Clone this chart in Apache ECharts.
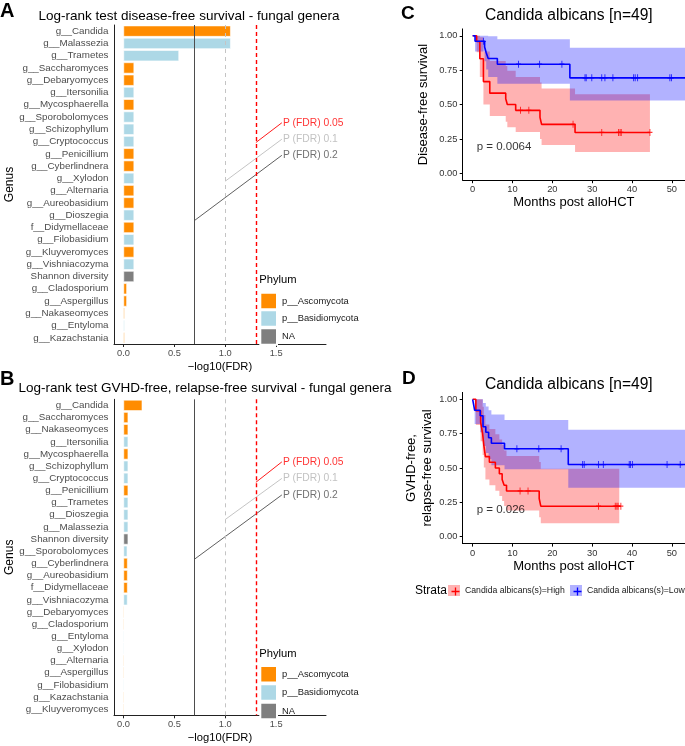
<!DOCTYPE html>
<html><head><meta charset="utf-8">
<script src="https://cdn.jsdelivr.net/npm/echarts@6/dist/echarts.min.js"></script>
<style>html,body{margin:0;padding:0;background:#fff}#c{width:685px;height:746px}</style>
</head><body><div id="c"></div>
<script>
// ---------- Panel A data ----------
const genusA = ['g__Candida','g__Malassezia','g__Trametes','g__Saccharomyces','g__Debaryomyces','g__Itersonilia','g__Mycosphaerella','g__Sporobolomyces','g__Schizophyllum','g__Cryptococcus','g__Penicillium','g__Cyberlindnera','g__Xylodon','g__Alternaria','g__Aureobasidium','g__Dioszegia','f__Didymellaceae','g__Filobasidium','g__Kluyveromyces','g__Vishniacozyma','Shannon diversity','g__Cladosporium','g__Aspergillus','g__Nakaseomyces','g__Entyloma','g__Kazachstania'];
const phylumA = ['A','B','B','A','A','B','A','B','B','B','A','A','B','A','A','B','A','B','A','B','N','A','A','A','B','A'];
const fdrA = [1.054,1.054,0.546,0.105,0.105,0.105,0.105,0.105,0.105,0.105,0.105,0.105,0.105,0.105,0.105,0.105,0.105,0.105,0.105,0.105,0.105,0.034,0.034,0.012,0.012,0.012];
// ---------- Panel B data ----------
const genusB = ['g__Candida','g__Saccharomyces','g__Nakaseomyces','g__Itersonilia','g__Mycosphaerella','g__Schizophyllum','g__Cryptococcus','g__Penicillium','g__Trametes','g__Dioszegia','g__Malassezia','Shannon diversity','g__Sporobolomyces','g__Cyberlindnera','g__Aureobasidium','f__Didymellaceae','g__Vishniacozyma','g__Debaryomyces','g__Cladosporium','g__Entyloma','g__Xylodon','g__Alternaria','g__Aspergillus','g__Filobasidium','g__Kazachstania','g__Kluyveromyces'];
const phylumB = ['A','A','A','B','A','B','B','A','B','B','B','N','B','A','A','A','B','A','A','B','B','A','A','B','A','A'];
const fdrB = [0.185,0.047,0.047,0.047,0.047,0.047,0.047,0.047,0.047,0.047,0.047,0.047,0.038,0.041,0.041,0.041,0.04,0.008,0.008,0.008,0.008,0.008,0.008,0.008,0.008,0.008];
// FDR thresholds and annotation rows (row index units)
const fdrCuts = [0.2, 0.1, 0.05];
const cutLabels = ['P (FDR) 0.2', 'P (FDR) 0.1', 'P (FDR) 0.05'];
const annLabelX = 1.556;
const annStartRowA = [15.43, 12.23, 9.08];
const annLabelRowA = [10.12, 8.81, 7.47];
const annStartRowB = [12.65, 9.39, 6.33];
const annLabelRowB = [7.37, 6.01, 4.65];
const xTicksAB = [0, 0.5, 1.0, 1.5];
const phylumNames = ['p__Ascomycota','p__Basidiomycota','NA'];
const phylumCodes = ['A','B','N'];
// ---------- Panel C data (disease-free survival) ----------
const kmCHighT  = [0, 1.0, 1.8, 2.7, 4.3, 8.3, 8.7, 10.8, 16.9, 17.3, 25.7, 44.5];
const kmCHighS  = [1, 0.958, 0.833, 0.667, 0.583, 0.542, 0.5, 0.458, 0.407, 0.356, 0.297, 0.297];
const kmCHighLo = [1, 0.88, 0.70, 0.50, 0.416, 0.375, 0.335, 0.30, 0.25, 0.206, 0.155, 0.155];
const kmCHighUp = [1, 1, 0.99, 0.885, 0.816, 0.78, 0.745, 0.70, 0.66, 0.617, 0.574, 0.574];
const censCHighT = [12.0, 14.1, 25.2, 32.4, 36.6, 37.0, 37.3, 44.5];
const censCHighS = [0.458, 0.458, 0.356, 0.297, 0.297, 0.297, 0.297, 0.297];
const kmCLowT  = [0, 0.6, 3.0, 3.4, 3.9, 6.2, 24.4, 53.3];
const kmCLowS  = [1, 0.96, 0.918, 0.876, 0.835, 0.793, 0.694, 0.694];
const kmCLowLo = [1, 0.885, 0.815, 0.754, 0.70, 0.652, 0.53, 0.53];
const kmCLowUp = [1, 1, 1, 1, 0.997, 0.974, 0.913, 0.913];
const censCLowT = [2.7, 11.5, 16.8, 22.4, 28.2, 28.5, 29.9, 32.4, 33.2, 35.2, 40.4, 40.8, 41.4, 49.5, 49.9];
const censCLowS = [0.96, 0.793, 0.793, 0.793, 0.694, 0.694, 0.694, 0.694, 0.694, 0.694, 0.694, 0.694, 0.694, 0.694, 0.694];
const pvalC = 'p = 0.0064';
// ---------- Panel D data (GVHD-free, relapse-free survival) ----------
const kmDHighT  = [0, 0.8, 2.0, 2.5, 2.8, 3.2, 4.2, 5.7, 6.7, 7.4, 7.9, 8.5, 16.7, 17.1, 37.2];
const kmDHighS  = [1, 0.917, 0.833, 0.75, 0.667, 0.583, 0.542, 0.5, 0.458, 0.417, 0.375, 0.333, 0.278, 0.222, 0.222];
const kmDHighLo = [1, 0.813, 0.694, 0.595, 0.503, 0.416, 0.375, 0.335, 0.297, 0.26, 0.224, 0.19, 0.142, 0.098, 0.098];
const kmDHighUp = [1, 1, 1, 0.945, 0.885, 0.817, 0.783, 0.746, 0.708, 0.669, 0.628, 0.587, 0.543, 0.495, 0.495];
const bandDHighEnd = 36.8;
const censDHighT = [11.9, 13.9, 31.6, 35.8, 36.2, 36.5, 37.2];
const censDHighS = [0.333, 0.333, 0.222, 0.222, 0.222, 0.222, 0.222];
const kmDLowT  = [0, 0.5, 1.9, 2.6, 3.3, 4.0, 4.7, 8.0, 24.0, 53.3];
const kmDLowS  = [1, 0.92, 0.88, 0.80, 0.76, 0.72, 0.68, 0.64, 0.525, 0.525];
const kmDLowLo = [1, 0.82, 0.76, 0.66, 0.61, 0.565, 0.52, 0.49, 0.357, 0.357];
const kmDLowUp = [1, 1, 1, 0.973, 0.947, 0.92, 0.889, 0.85, 0.779, 0.779];
const censDLowT = [11.1, 16.6, 22.2, 27.6, 28.0, 31.6, 32.8, 39.3, 39.6, 40.1, 48.8, 52.1];
const censDLowS = [0.64, 0.64, 0.64, 0.525, 0.525, 0.525, 0.525, 0.525, 0.525, 0.525, 0.525, 0.525];
const pvalD = 'p = 0.026';
const strataNames = ['Candida albicans(s)=High', 'Candida albicans(s)=Low'];
const xTicksKM = [0, 10, 20, 30, 40, 50];
const yTicksKM = [0, 0.25, 0.5, 0.75, 1];

// ---------- styling ----------
const FF = '"Liberation Sans", Arial, sans-serif';
const phylumColors = ['#FF8C00', '#ADD8E6', '#7F7F7F'];
const cutStyles = [
  {color: '#4D4D4D', type: 'solid', width: 1},
  {color: '#C4C4C4', type: [4, 4], width: 1},
  {color: '#FF0000', type: [4, 3], width: 1.4}
];
const connColors = ['#4D4D4D', '#BDBDBD', '#FF0000'];
const annColors = ['#4D4D4D', '#B3B3B3', '#FF0000'];
const axisCol = '#222';
const tickTxt = '#4D4D4D';

function barPanel(vals, phyla, xi, yi, yHidden, startRows, labelRows, stackKey) {
  const out = [];
  phylumCodes.forEach((code, k) => {
    const s = {
      type: 'bar', name: phylumNames[k], xAxisIndex: xi, yAxisIndex: yi, stack: stackKey,
      barCategoryGap: '10%', silent: true,
      itemStyle: {color: phylumColors[k], borderColor: '#fff', borderWidth: 0.6},
      data: vals.map((v, i) => phyla[i] === code ? v : '-')
    };
    if (k === 0) {
      s.markLine = {
        silent: true, symbol: ['none', 'none'], label: {show: false},
        data: fdrCuts.map((p, j) => ({xAxis: -Math.log10(p), lineStyle: cutStyles[j]}))
      };
    }
    out.push(s);
  });
  fdrCuts.forEach((p, j) => {
    out.push({
      type: 'line', xAxisIndex: xi, yAxisIndex: yHidden, symbol: 'none', silent: true,
      lineStyle: {color: connColors[j], width: 0.9},
      data: [[-Math.log10(p), startRows[j]], [annLabelX, labelRows[j]]]
    });
    out.push({
      type: 'scatter', xAxisIndex: xi, yAxisIndex: yHidden, symbolSize: 0.1, silent: true,
      itemStyle: {color: 'rgba(0,0,0,0)'},
      label: {show: true, position: 'right', distance: 1, formatter: cutLabels[j],
              color: annColors[j], fontSize: 10.3, fontFamily: FF},
      data: [[annLabelX, labelRows[j]]]
    });
  });
  return out;
}

// confidence band: one polygon built through the axes' coord conversion
function kmBand(t, lo, up, fill, xi, yi) {
  const n = t.length;
  return {
    type: 'custom', xAxisIndex: xi, yAxisIndex: yi, silent: true, z: 2, clip: true,
    encode: {x: 0, y: [1, 2]},
    data: t.map((x, i) => [x, lo[i], up[i]]),
    renderItem: function (params, api) {
      if (params.dataIndex !== 0) return null;
      const pts = [];
      for (let i = 0; i < n - 1; i++) {
        pts.push(api.coord([api.value(0, i), api.value(2, i)]));
        pts.push(api.coord([api.value(0, i + 1), api.value(2, i)]));
      }
      for (let i = n - 2; i >= 0; i--) {
        pts.push(api.coord([api.value(0, i + 1), api.value(1, i)]));
        pts.push(api.coord([api.value(0, i), api.value(1, i)]));
      }
      return {type: 'polygon', shape: {points: pts}, style: {fill: fill}};
    }
  };
}
function kmLine(t, s, cT, cS, color, xi, yi, name) {
  return [
    {type: 'line', name: name, step: 'end', xAxisIndex: xi, yAxisIndex: yi, symbol: 'none', silent: true,
     itemStyle: {color: color}, lineStyle: {color: color, width: 1.6}, data: t.map((x, i) => [x, s[i]]), z: 4},
    {type: 'scatter', xAxisIndex: xi, yAxisIndex: yi, silent: true, z: 5,
     symbol: 'path://M5,0L5,10M0,5L10,5', symbolSize: [5, 7],
     itemStyle: {color: 'none', borderColor: color, borderWidth: 1.1},
     data: cT.map((x, i) => [x, cS[i]])}
  ];
}
function pvalSeries(text, xi, yi) {
  return {type: 'scatter', xAxisIndex: xi, yAxisIndex: yi, symbolSize: 0.1, silent: true, z: 6,
    itemStyle: {color: 'rgba(0,0,0,0)'},
    label: {show: true, position: 'right', distance: 0, formatter: text, fontSize: 11.5, color: '#000', fontFamily: FF},
    data: [[1.0, 0.193]]};
}

const catAxis = (grid, cats, name) => ({
  type: 'category', gridIndex: grid, data: cats, inverse: true,
  axisLine: {onZero: false, lineStyle: {color: axisCol, width: 1}},
  axisTick: {length: 3, alignWithLabel: true, lineStyle: {color: axisCol}},
  axisLabel: {fontSize: 9.8, color: tickTxt, margin: 5.5, fontFamily: FF, interval: 0},
  name: name, nameLocation: 'middle', nameGap: 95,
  nameTextStyle: {fontSize: 12, color: '#000', fontFamily: FF}
});
const hiddenRowAxis = (grid, n) => ({type: 'value', gridIndex: grid, show: false, inverse: true, min: -0.5, max: n - 0.5});
const fdrXAxis = (grid) => ({
  type: 'value', gridIndex: grid, min: -0.093, max: 1.99,
  splitLine: {show: false},
  axisLine: {onZero: false, lineStyle: {color: axisCol, width: 1}},
  axisTick: {length: 3, customValues: xTicksAB, lineStyle: {color: axisCol}},
  axisLabel: {customValues: xTicksAB, formatter: v => v.toFixed(1), fontSize: 9.3, color: tickTxt, margin: 5, fontFamily: FF},
  name: '\u2212log10(FDR)', nameLocation: 'middle', nameGap: 16.3,
  nameTextStyle: {fontSize: 11.2, color: '#000', fontFamily: FF, lineHeight: 13.4}
});
const kmXAxis = (grid) => ({
  type: 'value', gridIndex: grid, min: -2.5, max: 53.3,
  splitLine: {show: false},
  axisLine: {onZero: false, lineStyle: {color: '#000', width: 1}},
  axisTick: {length: 3, customValues: xTicksKM, lineStyle: {color: '#000'}},
  axisLabel: {customValues: xTicksKM, fontSize: 9.3, color: '#333', margin: 5, fontFamily: FF},
  name: 'Months post alloHCT', nameLocation: 'middle', nameGap: 14.3,
  nameTextStyle: {fontSize: 13, color: '#000', fontFamily: FF, lineHeight: 15.6}
});
const kmYAxis = (grid, name, gap) => ({
  type: 'value', gridIndex: grid, min: -0.05, max: 1.05,
  splitLine: {show: false},
  axisLine: {onZero: false, lineStyle: {color: '#000', width: 1}},
  axisTick: {length: 3, customValues: yTicksKM, lineStyle: {color: '#000'}},
  axisLabel: {customValues: yTicksKM, formatter: v => v.toFixed(2), fontSize: 9.3, color: '#333', margin: 5.4, fontFamily: FF},
  name: name, nameLocation: 'middle', nameGap: gap,
  nameTextStyle: {fontSize: 13, color: '#000', fontFamily: FF, lineHeight: 15.6, align: 'center'}
});

const txt = (text, x, y, size, opts = {}) => ({
  type: 'text', x: x, y: y, silent: true,
  style: Object.assign({text: text, fill: '#000', font: (opts.bold ? 'bold ' : '') + size + 'px ' + FF,
    align: opts.align || 'left', verticalAlign: 'middle'})
});

const series = [].concat(
  barPanel(fdrA, phylumA, 0, 0, 1, annStartRowA, annLabelRowA, 'A'),
  barPanel(fdrB, phylumB, 1, 2, 3, annStartRowB, annLabelRowB, 'B'),
  [kmBand(kmCHighT, kmCHighLo, kmCHighUp, 'rgba(255,0,0,0.3)', 2, 4),
   kmBand(kmCLowT, kmCLowLo, kmCLowUp, 'rgba(0,0,255,0.3)', 2, 4)],
  kmLine(kmCHighT, kmCHighS, censCHighT, censCHighS, '#FF0000', 2, 4, strataNames[0]),
  kmLine(kmCLowT, kmCLowS, censCLowT, censCLowS, '#0000FF', 2, 4, strataNames[1]),
  [pvalSeries(pvalC, 2, 4)],
  [kmBand(kmDHighT.slice(0, -1).concat([bandDHighEnd]), kmDHighLo, kmDHighUp, 'rgba(255,0,0,0.3)', 3, 5),
   kmBand(kmDLowT, kmDLowLo, kmDLowUp, 'rgba(0,0,255,0.3)', 3, 5)],
  kmLine(kmDHighT, kmDHighS, censDHighT, censDHighS, '#FF0000', 3, 5, strataNames[0]),
  kmLine(kmDLowT, kmDLowS, censDLowT, censDLowS, '#0000FF', 3, 5, strataNames[1]),
  [pvalSeries(pvalD, 3, 5)]
);

// one legend per key so every key sits exactly where the reference has it
const phylumLegendTopsA = [291.7, 309.3, 327.3];
const phylumLegendTopsB = [665, 683.3, 701.7];
const phylumLegends = [];
[phylumLegendTopsA, phylumLegendTopsB].forEach(tops => {
  phylumNames.forEach((nm, k) => phylumLegends.push({
    data: [nm], left: 259.3, top: tops[k], icon: 'rect',
    itemWidth: 16.7, itemHeight: 16.5, selectedMode: false, padding: 0,
    textStyle: {fontSize: 9.4, color: '#1A1A1A', fontFamily: FF}
  }));
});
const strataLeft = [448, 570];
const strataLegends = [];
strataNames.forEach((nm, k) => {
  strataLegends.push({
    data: [{name: nm, itemStyle: {color: k === 0 ? 'rgba(255,0,0,0.3)' : 'rgba(0,0,255,0.3)', borderWidth: 0}}],
    left: strataLeft[k], top: 585, icon: 'rect', itemWidth: 12, itemHeight: 11, padding: 0, selectedMode: false,
    textStyle: {fontSize: 8.7, color: '#1A1A1A', fontFamily: FF}
  });
  strataLegends.push({
    data: [{name: nm, icon: 'path://M5,0L5,10M0,5L10,5',
            itemStyle: {color: 'none', borderColor: k === 0 ? '#FF0000' : '#0000FF', borderWidth: 1.3}}],
    left: strataLeft[k] + 1, top: 585, itemWidth: 10, itemHeight: 8, padding: 0, selectedMode: false,
    formatter: () => '', textStyle: {fontSize: 1, color: 'rgba(0,0,0,0)'}
  });
});

const option = {
  animation: false,
  backgroundColor: '#fff',
  grid: [
    {left: 114, top: 25, width: 212, height: 319},
    {left: 114, top: 399.3, width: 212, height: 318.4},
    {left: 462.7, top: 28.9, width: 222.3, height: 151.3},
    {left: 462.7, top: 392.4, width: 222.3, height: 151.2}
  ],
  xAxis: [fdrXAxis(0), fdrXAxis(1), kmXAxis(2), kmXAxis(3)],
  yAxis: [
    catAxis(0, genusA, 'Genus'), hiddenRowAxis(0, genusA.length),
    catAxis(1, genusB, 'Genus'), hiddenRowAxis(1, genusB.length),
    kmYAxis(2, 'Disease-free survival', 31),
    kmYAxis(3, 'GVHD-free,\nrelapse-free survival', 27.5)
  ],
  legend: phylumLegends.concat(strataLegends),
  graphic: [
    txt('A', 0, 11, 20, {bold: true}),
    txt('B', 0, 379, 20, {bold: true}),
    txt('C', 401, 14, 19, {bold: true}),
    txt('D', 402, 379, 19, {bold: true}),
    txt('Log-rank test disease-free survival - fungal genera', 189, 16, 13.5, {align: 'center'}),
    txt('Log-rank test GVHD-free, relapse-free survival - fungal genera', 205, 388.3, 13.5, {align: 'center'}),
    txt('Candida albicans [n=49]', 568.8, 16, 15.6, {align: 'center'}),
    txt('Candida albicans [n=49]', 568.8, 385, 15.6, {align: 'center'}),
    txt('Phylum', 259.3, 280, 11.2),
    txt('Phylum', 259.3, 654, 11.2),
    txt('Strata', 415, 590.7, 12)
  ],
  series: series
};
const chart = echarts.init(document.getElementById('c'), null, {renderer: 'canvas'});
chart.setOption(option);
</script></body></html>
